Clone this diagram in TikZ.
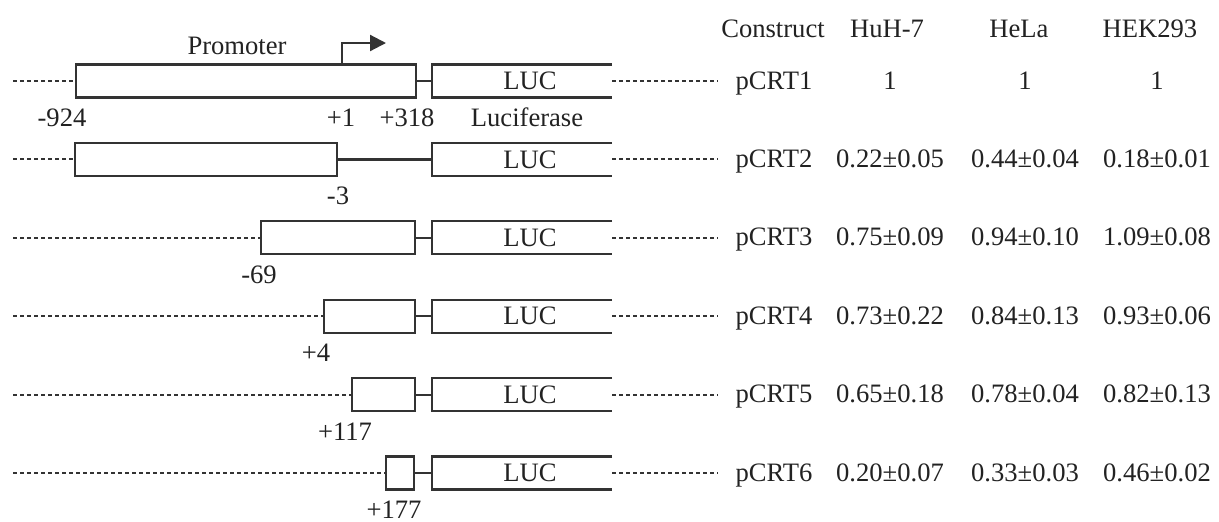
\documentclass[tikz,border=0pt]{standalone}
\usepackage{fontspec}
\setmainfont{Liberation Serif}
\usetikzlibrary{arrows.meta}
\definecolor{ink}{HTML}{222222}
\definecolor{ln}{HTML}{333333}
\begin{document}
\begin{tikzpicture}[x=0.5pt,y=-0.5pt,
  txt/.style={font=\fontsize{13.3}{16}\selectfont, text=ink, inner sep=0pt, anchor=base},
  pbox/.style={draw=ln, line width=1.1pt, minimum height=16.5pt, inner sep=0pt},
  lucbox/.style={minimum width=90pt, minimum height=16.5pt, inner sep=0pt, outer sep=0pt},
  cname/.style={txt, inner xsep=9pt},
  solidln/.style={draw=ln, line width=1.1pt},
  dashln/.style={draw=ln, line width=1pt, dash pattern=on 2.2pt off 1.3pt},
]
\useasboundingbox (0,0) rectangle (1219,521);

% header
\node[txt] (hC) at (773,37) {Construct};
\node[txt] (hH) at (887,37) {HuH-7};
\node[txt] (hL) at (1019,37) {HeLa};
\node[txt] (hK) at (1150,37) {HEK293};
\node[txt] (prom) at (237,54) {Promoter};

% rows: index / row y / box center / box width(pt) / name / v1 / v2 / v3
\foreach \i/\r/\bc/\bw/\nm/\va/\vb/\vc in {
  1/81/246/170/pCRT1/1/1/1,
  2/159.4/206/131/pCRT2/0.22±0.05/0.44±0.04/0.18±0.01,
  3/237.8/338/77/pCRT3/0.75±0.09/0.94±0.10/1.09±0.08,
  4/316.2/369.5/45.5/pCRT4/0.73±0.22/0.84±0.13/0.93±0.06,
  5/394.6/383.5/31.5/pCRT5/0.65±0.18/0.78±0.04/0.82±0.13,
  6/473/400/14/pCRT6/0.20±0.07/0.33±0.03/0.46±0.02}{
  \node[pbox, minimum width=\bw pt] (P\i) at (\bc,\r) {};
  \node[lucbox] (L\i) at (522,\r) {};
  \draw[solidln] (L\i.north east) -- (L\i.north west) -- (L\i.south west) -- (L\i.south east);
  \node[txt, anchor=center] (T\i) at ([xshift=4pt]L\i.center) {LUC};
  \draw[solidln] (P\i.east) -- (L\i.west);
  \coordinate (s\i) at (13,\r);
  \draw[dashln] (s\i) -- (P\i.west);
  \node[cname] (C\i) at (774,\r+8) {\nm};
  \draw[dashln] (L\i.east) -- (L\i.east -| C\i.west);
  \node[txt] (Va\i) at (890,\r+8) {\va};
  \node[txt] (Vb\i) at (1025,\r+8) {\vb};
  \node[txt] (Vc\i) at (1157,\r+8) {\vc};
}

% transcription start arrow
\coordinate (tsx) at (342,43);
\coordinate (tip) at (386,43);
\draw[solidln, -{Triangle[length=8pt,width=8pt]}] (tsx |- P1.north) -- (tsx) -- (tip);

% position labels
\node[txt] (n924) at (62,126) {-924};
\node[txt] (p1) at (341,126) {+1};
\node[txt] (p318) at (407,126) {+318};
\node[txt] (lucif) at (527,126) {Luciferase};
\node[txt] (m3) at (338,204) {-3};
\node[txt] (m69) at (259,283) {-69};
\node[txt] (p4) at (316,361) {+4};
\node[txt] (p117) at (345,440) {+117};
\node[txt] (p177) at (394,518) {+177};
\end{tikzpicture}
\end{document}
